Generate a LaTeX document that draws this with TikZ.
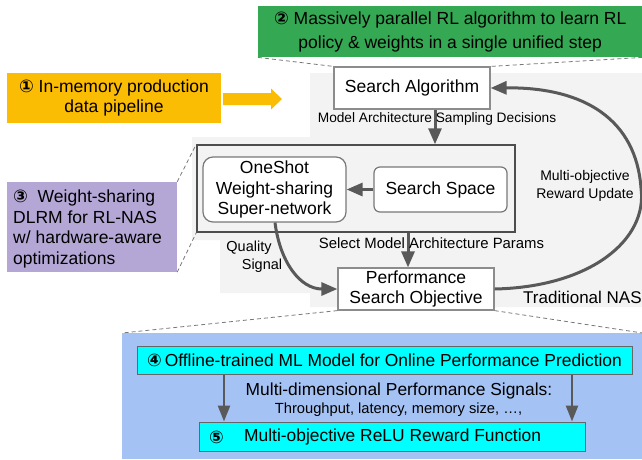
\documentclass[tikz,border=0pt]{standalone}
\usepackage{fontspec}
\setmainfont{Liberation Sans}
\newfontfamily\numfont{DejaVu Sans Bold}
\usetikzlibrary{arrows.meta}

\definecolor{gGreen}{RGB}{52,168,83}
\definecolor{gOrange}{RGB}{251,188,4}
\definecolor{gPurple}{RGB}{180,167,214}
\definecolor{blueReg}{RGB}{164,194,244}
\definecolor{pureCyan}{RGB}{0,255,255}
\definecolor{bgGray}{RGB}{243,243,243}
\definecolor{arrowGray}{RGB}{89,89,89}
\definecolor{boxEdge}{RGB}{140,140,140}
\definecolor{frameEdge}{RGB}{77,77,77}
\definecolor{cyanEdge}{RGB}{102,102,102}
\definecolor{guideGray}{RGB}{120,120,120}

\newcommand\fsz[2]{\fontsize{#1pt}{#2pt}\selectfont}

\tikzset{
  box/.style={draw=boxEdge, line width=1.2pt, fill=white, inner sep=0pt, align=center, font=\fsz{17.5}{20.5}},
  cyanbox/.style={draw=cyanEdge, line width=1pt, fill=pureCyan, inner sep=0pt, font=\fsz{17.4}{20}},
  conn/.style={draw=arrowGray, line width=3pt, -{Triangle[length=16pt,width=13pt]}},
  thinconn/.style={draw=arrowGray, line width=2.5pt, -{Triangle[length=16pt,width=12pt]}},
  guide/.style={draw=guideGray, line width=0.8pt, dash pattern=on 4pt off 3pt},
  lab/.style={inner sep=0pt, align=center},
  banner/.style={inner sep=0pt, align=center, font=\fsz{17.5}{20.5}}
}

\begin{document}
\begin{tikzpicture}[x=1pt,y=-1pt]
\useasboundingbox (0,0) rectangle (642,459);

% light gray area of the traditional NAS loop
\fill[bgGray] (310,73) -- (642,73) -- (642,307) -- (310,307) -- (310,293)
  -- (220,293) -- (220,240) -- (192,240) -- (192,137) -- (310,137) -- cycle;

% banners
\node[banner, fill=gGreen, minimum width=384pt, minimum height=51pt, anchor=north west,
      font=\fsz{17.5}{24}] (green) at (258,6)
  {{\numfont②} Massively parallel RL algorithm to learn RL\\policy \& weights in a single unified step};
\node[banner, fill=gOrange, minimum width=214pt, minimum height=50pt] (orange) at (114,98)
  {{\numfont①} In-memory production\\data pipeline};
% block arrow pointing from the data pipeline towards the search loop
\coordinate (oaTail) at (223,99);
\coordinate (oaTip) at (282,99);
\fill[gOrange] ([yshift=6pt]oaTail) -- ++(48pt,0) -- ++(0,4.5pt) -- (oaTip)
  -- ([xshift=-11pt,yshift=-10.5pt]oaTip) -- ++(0,4.5pt) -- ([yshift=-6pt]oaTail) -- cycle;
\node[fill=gPurple, minimum width=170pt, minimum height=90pt, inner sep=0pt] (purple) at (92,227) {};
\node[lab, anchor=west, align=left, font=\fsz{17.5}{20.7}] (purpletxt) at (13,229)
  {{\numfont③}\ \ Weight-sharing\\DLRM for RL-NAS\\w/ hardware-aware\\optimizations};

% performance model area
\node[fill=blueReg, minimum width=520pt, minimum height=126pt, inner sep=0pt, anchor=north west]
  (blue) at (122,333) {};

% search loop
\node[box, minimum width=156pt, minimum height=42pt] (search) at (412,88) {Search Algorithm};
\node[draw=frameEdge, line width=1.5pt, fill=bgGray, minimum width=318pt, minimum height=87pt,
      inner sep=0pt] (frame) at (356,188.5) {};
\node[box, draw=guideGray, rounded corners=10pt, minimum width=143pt, minimum height=65pt]
  (oneshot) at (274.5,189.5) {OneShot\\Weight-sharing\\Super-network};
\node[box, draw=guideGray, rounded corners=6pt, minimum width=133pt, minimum height=45pt]
  (space) at (440.5,189.5) {Search Space};
\node[box, font=\fsz{17.5}{20}, minimum width=156pt, minimum height=42pt]
  (perf) at (416,289) {Performance\\Search Objective};

% zoom guides
\draw[guide] (green.south west) -- (search.north west);
\draw[guide] (green.south east) -- (search.north east);
\draw[guide] (purple.north east) -- (frame.north west);
\draw[guide] (purple.south east) -- (frame.south west);
\draw[guide] (perf.south west) -- (blue.north west);
\draw[guide] (perf.south east) -- (blue.north east);

% loop connectors
\draw[conn] ([xshift=23pt]search.south) -- ([xshift=23pt]search.south |- frame.north);
\draw[conn] ([xshift=-8pt]perf.north |- frame.south) -- ([xshift=-8pt]perf.north);
\draw[conn] (space.west) -- (oneshot.east);
\draw[conn] ([xshift=0.5pt]oneshot.south) .. controls (280,262) and (300,289) .. (perf.west);
\coordinate (loopR) at (641,188);
\draw[conn] (perf.east) .. controls (590,287) and (648,240) .. (loopR)
  .. controls (636,120) and (585,87) .. (search.east);

% labels of the loop
\node[lab, font=\fsz{13.7}{16}] (sampling) at (437,119) {Model Architecture Sampling Decisions};
\node[lab, font=\fsz{14.9}{17}] (select) at (431.5,243) {Select Model Architecture Params};
\node[lab, font=\fsz{14.5}{17}] (quality) at (249,248) {Quality};
\node[lab, font=\fsz{14.5}{17}] (signal) at (262,266) {Signal};
\node[lab, font=\fsz{14}{18}] (reward) at (585,186) {Multi-objective\\Reward Update};
\node[lab, anchor=west, font=\fsz{17}{20}] (trad) at (523,297) {Traditional NAS};

% performance model
\node[cyanbox, minimum width=495pt, minimum height=28pt] (predict) at (384.5,360)
  {{\numfont④}\,Offline-trained ML Model for Online Performance Prediction};
\node[cyanbox, minimum width=386pt, minimum height=29pt] (relu) at (392,436.5) {};
\node[lab, font=\fsz{17.4}{20}] (five) at (216.5,437) {\numfont⑤};
\node[lab, anchor=west, font=\fsz{17.4}{20}] (relutxt) at (244,437) {Multi-objective ReLU Reward Function};
\node[lab, font=\fsz{17.4}{20}] (signals) at (399,391) {Multi-dimensional Performance Signals:};
\node[lab, font=\fsz{14.7}{17}] (metrics) at (398.5,410) {Throughput, latency, memory size, …,};
\coordinate (leftX) at (224,0);
\coordinate (rightX) at (572,0);
\draw[thinconn] (predict.south -| leftX) -- (relu.north -| leftX);
\draw[thinconn] (predict.south -| rightX) -- (relu.north -| rightX);
\end{tikzpicture}
\end{document}
